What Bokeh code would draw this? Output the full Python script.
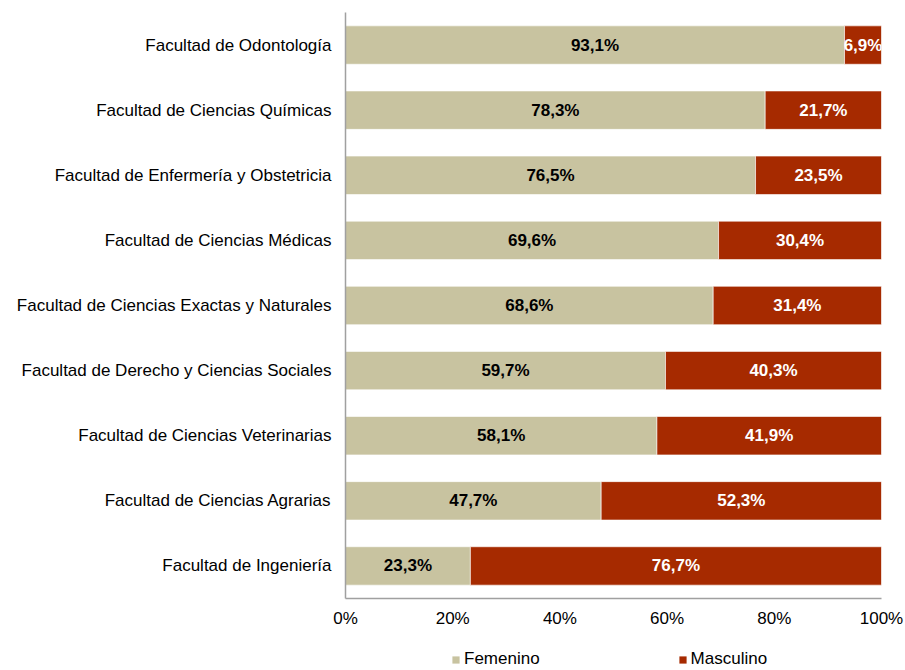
from bokeh.plotting import figure
from bokeh.layouts import column
from bokeh.models import (ColumnDataSource, FactorRange, Range1d, FixedTicker,
                          PrintfTickFormatter, Legend, LegendItem)
from bokeh.core.properties import value
from bokeh.embed import file_html
from bokeh.resources import INLINE

# Data (top to bottom as shown)
facultades = [
    "Facultad de Odontología",
    "Facultad de Ciencias Químicas",
    "Facultad de Enfermería y Obstetricia",
    "Facultad de Ciencias Médicas",
    "Facultad de Ciencias Exactas y Naturales",
    "Facultad de Derecho y Ciencias Sociales",
    "Facultad de Ciencias Veterinarias",
    "Facultad de Ciencias Agrarias",
    "Facultad de Ingeniería",
]
femenino = [93.1, 78.3, 76.5, 69.6, 68.6, 59.7, 58.1, 47.7, 23.3]
masculino = [6.9, 21.7, 23.5, 30.4, 31.4, 40.3, 41.9, 52.3, 76.7]
series_names = ["Femenino", "Masculino"]
x_ticks = [0, 20, 40, 60, 80, 100]

BEIGE = "#C8C3A0"
RED = "#A62A00"
FONT = "Liberation Sans"


def fmt(v):
    return f"{v:.1f}".replace(".", ",") + "%"


src = ColumnDataSource(dict(
    cat=facultades,
    fem=femenino,
    masc=masculino,
    fem_x=[f / 2 for f in femenino],
    masc_x=[f + m / 2 for f, m in zip(femenino, masculino)],
    fem_lbl=[fmt(v) for v in femenino],
    masc_lbl=[fmt(v) for v in masculino],
))

p = figure(
    width=905, height=630,
    y_range=FactorRange(factors=list(reversed(facultades))),
    x_range=Range1d(0, 100),
    output_backend="svg", toolbar_location=None,
    min_border_left=345, min_border_right=24,
    min_border_top=12, min_border_bottom=32,
)
p.outline_line_color = None
p.grid.visible = False

rs = p.hbar_stack(["fem", "masc"], y="cat", height=0.59, color=[BEIGE, RED],
                  line_color="white", line_width=1, line_alpha=0.6, source=src)

p.text(x="fem_x", y="cat", text="fem_lbl", source=src, text_align="center",
       text_baseline="middle", text_font=value(FONT), text_font_style="bold",
       text_font_size="17px", text_color="#000000")
p.text(x="masc_x", y="cat", text="masc_lbl", source=src, text_align="center",
       text_baseline="middle", text_font=value(FONT), text_font_style="bold",
       text_font_size="17px", text_color="#FFFFFF")

# X axis
xa = p.xaxis[0]
xa.ticker = FixedTicker(ticks=x_ticks)
xa.formatter = PrintfTickFormatter(format="%d%%")
xa.major_tick_line_color = None
xa.minor_tick_line_color = None
xa.major_tick_out = 0
xa.major_tick_in = 0
xa.major_label_standoff = 10
xa.major_label_text_font = FONT
xa.major_label_text_font_size = "17px"
xa.major_label_text_color = "#000000"
xa.axis_line_color = "#A0A0A0"
xa.axis_line_width = 1.5

# Y axis
ya = p.yaxis[0]
ya.major_tick_line_color = None
ya.minor_tick_line_color = None
ya.major_tick_out = 0
ya.major_tick_in = 0
ya.major_label_standoff = 14
ya.major_label_text_font = FONT
ya.major_label_text_font_size = "17px"
ya.major_label_text_color = "#000000"
ya.axis_line_color = "#A0A0A0"
ya.axis_line_width = 1.5

# Legend strip below the chart (its renderers share the data, hidden)
q = figure(
    width=905, height=40,
    y_range=FactorRange(factors=list(reversed(facultades))),
    x_range=Range1d(1000, 1100),
    output_backend="svg", toolbar_location=None,
    x_axis_location=None, y_axis_location=None,
    min_border_left=0, min_border_right=0, min_border_top=0, min_border_bottom=0,
)
q.outline_line_color = None
q.grid.visible = False
qrs = q.hbar_stack(["fem", "masc"], y="cat", height=0.59, color=[BEIGE, RED],
                   line_color=None, source=src)
for r in qrs:
    r.visible = False

legend = Legend(
    items=[LegendItem(label=series_names[0], renderers=[qrs[0]]),
           LegendItem(label=series_names[1], renderers=[qrs[1]])],
    orientation="horizontal", location=(106, 1),
    margin=0, padding=0, spacing=138,
    glyph_width=9, glyph_height=9, label_standoff=4, label_height=18,
    label_text_font=FONT, label_text_font_size="17px",
    label_text_color="#000000",
    inactive_fill_alpha=0,
    border_line_color=None, background_fill_alpha=0,
)
q.add_layout(legend, "center")

layout = column(p, q, spacing=0)
open("out.html", "w").write(file_html(layout, INLINE))
